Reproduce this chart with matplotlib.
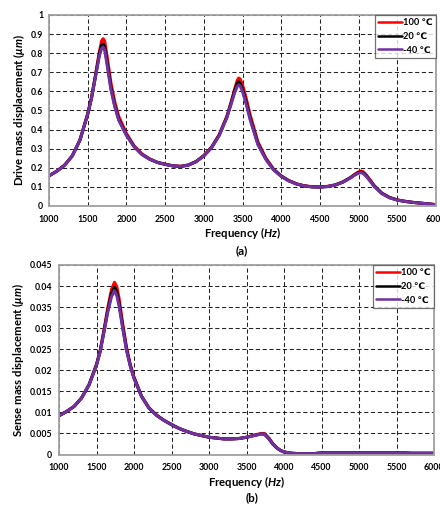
import matplotlib
matplotlib.use("Agg")
import matplotlib.pyplot as plt

plt.rcParams['font.family'] = ['Lato', 'DejaVu Sans']
plt.rcParams['font.weight'] = 'bold'
plt.rcParams['mathtext.fontset'] = 'custom'
plt.rcParams['mathtext.it'] = 'Lato:italic:bold'
plt.rcParams['mathtext.rm'] = 'Lato:bold'
plt.rcParams['mathtext.fallback'] = 'stixsans'

# ---- (a) drive mass displacement (um) ----
freq_drive = [1000, 1100, 1200, 1300, 1400, 1500, 1550, 1600, 1650, 1680, 1700, 1720,
              1750, 1800, 1850, 1900, 2000, 2100, 2200, 2300, 2400, 2500, 2600, 2700,
              2800, 2900, 3000, 3100, 3200, 3300, 3350, 3400, 3430, 3450, 3470, 3500,
              3550, 3600, 3700, 3800, 3900, 4000, 4100, 4200, 4300, 4400, 4500, 4600,
              4700, 4800, 4900, 4950, 5000, 5030, 5060, 5100, 5150, 5200, 5300, 5400,
              5500, 5600, 5700, 5800, 5900, 6000]
drive_100 = [0.158, 0.182, 0.213, 0.262, 0.346, 0.482, 0.570, 0.685, 0.805, 0.865, 0.876, 0.862,
             0.785, 0.645, 0.545, 0.470, 0.380, 0.315, 0.273, 0.247, 0.229, 0.219, 0.211, 0.208,
             0.215, 0.233, 0.264, 0.308, 0.374, 0.472, 0.540, 0.615, 0.655, 0.670, 0.665, 0.635,
             0.560, 0.475, 0.335, 0.252, 0.194, 0.158, 0.133, 0.116, 0.106, 0.101, 0.100, 0.103,
             0.111, 0.127, 0.151, 0.166, 0.179, 0.183, 0.179, 0.163, 0.136, 0.108, 0.068, 0.045,
             0.032, 0.025, 0.019, 0.015, 0.011, 0.007]
drive_20 = [0.158, 0.182, 0.213, 0.262, 0.345, 0.481, 0.567, 0.680, 0.795, 0.842, 0.848, 0.832,
            0.755, 0.620, 0.525, 0.455, 0.372, 0.311, 0.270, 0.245, 0.228, 0.218, 0.210, 0.207,
            0.214, 0.232, 0.263, 0.306, 0.372, 0.468, 0.535, 0.605, 0.640, 0.650, 0.643, 0.612,
            0.540, 0.458, 0.325, 0.248, 0.191, 0.156, 0.132, 0.115, 0.105, 0.100, 0.099, 0.102,
            0.110, 0.126, 0.149, 0.164, 0.175, 0.178, 0.173, 0.157, 0.132, 0.105, 0.066, 0.044,
            0.031, 0.024, 0.019, 0.015, 0.011, 0.007]
drive_m40 = [0.158, 0.182, 0.213, 0.262, 0.345, 0.480, 0.565, 0.675, 0.785, 0.825, 0.832, 0.815,
             0.740, 0.610, 0.520, 0.450, 0.370, 0.310, 0.270, 0.245, 0.228, 0.218, 0.210, 0.207,
             0.214, 0.232, 0.262, 0.305, 0.370, 0.465, 0.530, 0.595, 0.625, 0.635, 0.628, 0.600,
             0.530, 0.450, 0.320, 0.245, 0.190, 0.155, 0.131, 0.115, 0.105, 0.100, 0.099, 0.102,
             0.110, 0.125, 0.148, 0.162, 0.172, 0.175, 0.170, 0.155, 0.130, 0.103, 0.065, 0.043,
             0.031, 0.024, 0.019, 0.015, 0.011, 0.007]

# ---- (b) sense mass displacement (um) ----
freq_sense = [1000, 1100, 1200, 1300, 1400, 1500, 1550, 1600, 1650, 1700, 1740, 1770,
              1800, 1850, 1900, 1950, 2000, 2100, 2200, 2300, 2400, 2500, 2600, 2700,
              2800, 2900, 3000, 3100, 3200, 3300, 3400, 3500, 3600, 3700, 3740, 3800,
              3850, 3900, 3950, 4000, 4100, 4200, 4300, 4400, 4500, 4600, 5000, 5500,
              5600, 5700, 6000]
sense_100 = [0.0092, 0.0102, 0.0114, 0.0134, 0.0166, 0.0214, 0.0248, 0.0296, 0.0348, 0.0392, 0.0409, 0.0399,
             0.0372, 0.0310, 0.0255, 0.0214, 0.0184, 0.0139, 0.0111, 0.0094, 0.0081, 0.0071, 0.0062, 0.0055,
             0.0049, 0.0045, 0.0041, 0.0039, 0.0037, 0.0037, 0.0038, 0.0041, 0.0046, 0.0050, 0.0050, 0.0039,
             0.0026, 0.0017, 0.0010, 0.0006, 0.0003, 0.0002, 0.0002, 0.0002, 0.0004, 0.0004, 0.0004, 0.0004,
             0.0004, 0.0003, 0.0003]
sense_20 = [0.0092, 0.0102, 0.0114, 0.0134, 0.0165, 0.0213, 0.0246, 0.0293, 0.0342, 0.0382, 0.0397, 0.0386,
            0.0360, 0.0303, 0.0250, 0.0211, 0.0182, 0.0138, 0.0110, 0.0093, 0.0081, 0.0071, 0.0062, 0.0055,
            0.0049, 0.0045, 0.0041, 0.0039, 0.0037, 0.0037, 0.0038, 0.0041, 0.0045, 0.0049, 0.0048, 0.0037,
            0.0025, 0.0016, 0.0010, 0.0006, 0.0003, 0.0002, 0.0002, 0.0002, 0.0004, 0.0004, 0.0004, 0.0004,
            0.0004, 0.0003, 0.0003]
sense_m40 = [0.0092, 0.0102, 0.0114, 0.0134, 0.0165, 0.0212, 0.0245, 0.0291, 0.0338, 0.0375, 0.0389, 0.0378,
             0.0354, 0.0299, 0.0248, 0.0210, 0.0181, 0.0138, 0.0110, 0.0093, 0.0081, 0.0071, 0.0062, 0.0055,
             0.0049, 0.0045, 0.0041, 0.0039, 0.0037, 0.0037, 0.0038, 0.0041, 0.0045, 0.0049, 0.0048, 0.0037,
             0.0025, 0.0016, 0.0010, 0.0006, 0.0003, 0.0002, 0.0002, 0.0002, 0.0004, 0.0004, 0.0004, 0.0004,
             0.0004, 0.0003, 0.0003]

series_labels = ['100 \u2103', '20 \u2103', '-40 \u2103']
series_colors = ['#ff0000', '#000000', '#7030a0']

x_ticks = [1000, 1500, 2000, 2500, 3000, 3500, 4000, 4500, 5000, 5500, 6000]
drive_yticks = [0, 0.1, 0.2, 0.3, 0.4, 0.5, 0.6, 0.7, 0.8, 0.9, 1]
drive_yticklabels = ['0', '0.1', '0.2', '0.3', '0.4', '0.5', '0.6', '0.7', '0.8', '0.9', '1']
sense_yticks = [0, 0.005, 0.01, 0.015, 0.02, 0.025, 0.03, 0.035, 0.04, 0.045]
sense_yticklabels = ['0', '0.005', '0.01', '0.015', '0.02', '0.025', '0.03', '0.035', '0.04', '0.045']

W, H = 440, 505
fig = plt.figure(figsize=(W / 100, H / 100), dpi=100)


def px_axes(left, top, right, bottom):
    return fig.add_axes([left / W, 1 - bottom / H, (right - left) / W, (bottom - top) / H])


def style_axes(ax, yticks, yticklabels, ylim, ylabel, ylab_x, ypad, leg_box):
    ax.set_xlim(1000, 6000)
    ax.set_ylim(*ylim)
    ax.set_xticks(x_ticks)
    ax.set_xticklabels([str(t) for t in x_ticks])
    ax.set_yticks(yticks)
    ax.set_yticklabels(yticklabels)
    ax.tick_params(axis='x', length=0, pad=6.3, labelsize=6.3)
    ax.tick_params(axis='y', length=0, pad=ypad, labelsize=6.3)
    for lab in ax.get_xticklabels() + ax.get_yticklabels():
        lab.set_fontweight('bold')
    ax.grid(True, color='#222222', linestyle=(0, (4, 2.5)), linewidth=0.75)
    ax.set_axisbelow(True)
    for sp in ax.spines.values():
        sp.set_color('#a0a0a0')
        sp.set_linewidth(1.3)
    ax.set_xlabel('Frequency ($Hz$)', fontsize=8.2, fontweight='bold', va='center')
    ax.set_ylabel(ylabel, fontsize=8.2, fontweight='bold', va='center')
    ax.yaxis.set_label_coords(ylab_x, 0.5)
    leg = ax.legend(loc='upper right', bbox_to_anchor=leg_box, fontsize=6.7,
                    handlelength=2.6, handletextpad=0.1, borderpad=0.35,
                    labelspacing=0.5, frameon=True, fancybox=False,
                    borderaxespad=0.0)
    leg.get_frame().set_edgecolor('#505050')
    leg.get_frame().set_linewidth(0.9)
    for t in leg.get_texts():
        t.set_fontweight('bold')
    for h in leg.get_lines():
        h.set_linewidth(1.8)


# (a)
ax1 = px_axes(49, 15, 436, 206)
for y, lab, c in zip([drive_100, drive_20, drive_m40], series_labels, series_colors):
    ax1.plot(freq_drive, y, color=c, linewidth=2.2, label=lab, solid_capstyle='round')
style_axes(ax1, drive_yticks, drive_yticklabels, (0, 1),
           'Drive mass displacement ($\\mu m$)', -0.078, 4.3, (1.0, 1.0))
ax1.xaxis.set_label_coords(0.5, -(233 - 206) / 191)
fig.text(242 / W, 1 - 251 / H, '(a)', ha='center', va='center', fontsize=8.5, fontweight='bold')

# (b)
ax2 = px_axes(59, 265, 434, 454.5)
for y, lab, c in zip([sense_100, sense_20, sense_m40], series_labels, series_colors):
    ax2.plot(freq_sense, y, color=c, linewidth=2.2, label=lab, solid_capstyle='round')
style_axes(ax2, sense_yticks, sense_yticklabels, (0, 0.045),
           'Sense mass displacement ($\\mu m$)', -0.109, 5.0, (1.0, 1.0))
ax2.xaxis.set_label_coords(0.5, -(482 - 454.5) / 189.5)
fig.text(252 / W, 1 - 498 / H, '(b)', ha='center', va='center', fontsize=8.5, fontweight='bold')

fig.savefig('out.png', dpi=100)
